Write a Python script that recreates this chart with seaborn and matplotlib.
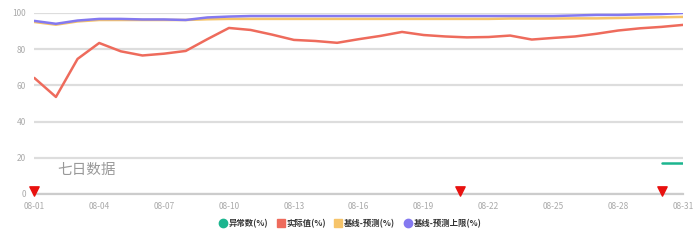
import matplotlib
matplotlib.use("Agg")
import matplotlib.pyplot as plt
import seaborn as sns
import pandas as pd
import numpy as np
from matplotlib.lines import Line2D

sns.set_theme(style="white")
plt.rcParams['font.family'] = ['Noto Sans CJK SC', 'DejaVu Sans']

dates = [f"08-{d:02d}" for d in range(1, 32)]
series_names = ["异常数(%)", "实际值(%)", "基线-预测(%)", "基线-预测上限(%)"]
colors = ["#1cb58f", "#ee6b5c", "#f6c46a", "#8479f0"]

anomaly = [np.nan] * 29 + [17.1, 17.1]
actual = [64.1, 53.6, 74.6, 83.4, 78.8, 76.5, 77.5, 79.0, 85.5, 91.7,
          90.6, 88.0, 85.1, 84.5, 83.5, 85.5, 87.3, 89.5, 87.8, 87.0,
          86.5, 86.7, 87.5, 85.3, 86.2, 87.0, 88.5, 90.3, 91.5, 92.3, 93.4]
pred = [95.0, 93.5, 95.3, 96.1, 96.1, 96.1, 96.1, 96.1, 96.5, 96.7,
        96.7, 96.7, 96.7, 96.7, 96.7, 96.7, 96.7, 96.7, 96.7, 96.7,
        96.7, 96.7, 96.9, 96.9, 96.9, 97.0, 97.0, 97.2, 97.4, 97.6, 97.8]
upper = [95.6, 94.0, 95.8, 96.7, 96.7, 96.4, 96.4, 96.1, 97.5, 98.0,
         98.3, 98.3, 98.3, 98.3, 98.3, 98.3, 98.3, 98.3, 98.3, 98.3,
         98.3, 98.3, 98.3, 98.3, 98.3, 98.6, 98.9, 98.9, 99.2, 99.4, 100.0]
alert_days = [0, 19.7, 29]
y_ticks = [0, 20, 40, 60, 80, 100]
note_text = "七日数据"

rows = []
for name, vals in zip(series_names, [anomaly, actual, pred, upper]):
    for i, v in enumerate(vals):
        rows.append({"idx": i, "value": v, "series": name})
df = pd.DataFrame(rows)

fig = plt.figure(figsize=(7, 2.44), dpi=100)
ax = fig.add_axes([0.049, 0.205, 0.927, 0.742])

sns.lineplot(data=df, x="idx", y="value", hue="series", hue_order=series_names,
             palette=colors, linewidth=1.8, ax=ax, legend=False, zorder=3)

ax.set_xlim(0, 30)
ax.set_ylim(0, 100)
ax.set_yticks(y_ticks)
ax.set_yticklabels([str(t) for t in y_ticks], fontsize=6, color="#aaaaaa")
ax.set_xticks(range(0, 31, 3))
ax.set_xticklabels([dates[i] for i in range(0, 31, 3)], fontsize=6, color="#aaaaaa")
ax.tick_params(axis="both", length=0, pad=6)
ax.yaxis.grid(True, color="#dddddd", linewidth=1.6)
ax.xaxis.grid(False)
for s in ["top", "right", "left"]:
    ax.spines[s].set_visible(False)
ax.spines["bottom"].set_color("#cccccc")
ax.spines["bottom"].set_linewidth(1.6)
ax.set_xlabel("")
ax.set_ylabel("")

ax.scatter(alert_days, [1.5] * len(alert_days), marker="v", s=45, color="#e8110f",
           zorder=5, clip_on=False)

ax.text(1.05, 13.3, note_text, fontsize=10.5, color="#999999", va="center", ha="left")

handles = [
    Line2D([], [], marker="o", linestyle="none", markersize=6, color=colors[0]),
    Line2D([], [], marker="s", linestyle="none", markersize=6, color=colors[1]),
    Line2D([], [], marker="s", linestyle="none", markersize=6, color=colors[2]),
    Line2D([], [], marker="o", linestyle="none", markersize=6, color=colors[3]),
]
leg = fig.legend(handles, series_names, loc="center", bbox_to_anchor=(0.5, 0.085),
                 ncol=4, frameon=False, fontsize=6, handletextpad=0.2,
                 columnspacing=1.0, handlelength=1.0)
for t in leg.get_texts():
    t.set_color("#333333")
    t.set_fontweight("bold")

fig.savefig("out.png", dpi=100, facecolor="white")
